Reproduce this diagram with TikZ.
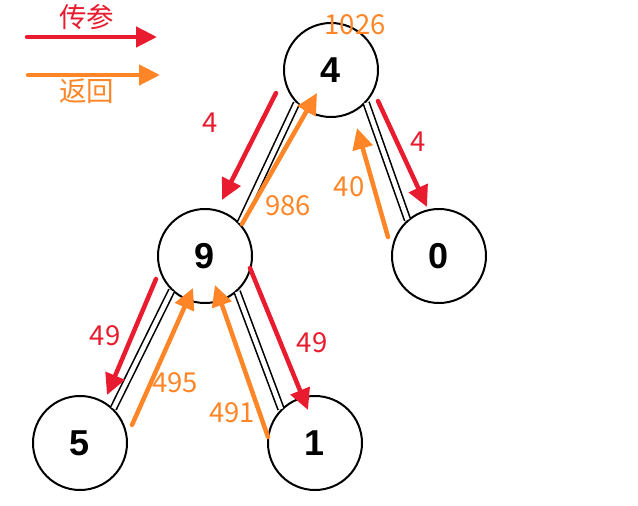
\documentclass[tikz,border=0pt]{standalone}
\usepackage{fontspec}
\newfontfamily\cjk{Noto Sans CJK SC}
\newfontfamily\nodefont{Liberation Sans}
\usetikzlibrary{arrows.meta}
\definecolor{cred}{RGB}{232,28,46}
\definecolor{corange}{RGB}{255,133,38}
\begin{document}
\begin{tikzpicture}[x=1pt,y=-1pt,
  tree/.style={circle,draw=black,fill=white,line width=2pt,minimum size=94pt,inner sep=0pt,
    font=\nodefont\bfseries\fontsize{36}{36}\selectfont},
  link/.style={draw=black,line width=1.6pt,double=white,double distance=4.5pt},
  pass/.style={draw=cred,line width=4.5pt,line cap=round,-{Triangle[length=21pt,width=20pt]}},
  ret/.style={draw=corange,line width=4.5pt,line cap=round,-{Triangle[length=21pt,width=20pt]}},
  rlab/.style={text=cred,font=\cjk\fontsize{27.5}{27.5}\selectfont,inner sep=0pt},
  olab/.style={text=corange,font=\cjk\fontsize{27.5}{27.5}\selectfont,inner sep=0pt}]
\useasboundingbox (0,0) rectangle (638,506);
% nodes
\node[tree] (n4) at (331,70) {4};
\node[tree] (n9) at (205,256) {9};
\node[tree] (n0) at (439,256) {0};
\node[tree] (n5) at (80,443) {5};
\node[tree] (n1) at (315,443) {1};
% tree edges
\draw[link] (n4.224) -- (n9.43);
\draw[link] (n4.317) -- (n0.131);
\draw[link] (n9.226) -- (n5.46);
\draw[link] (n9.312) -- (n1.135);
% legend
\coordinate (lr1) at (27,37); \coordinate (lr2) at (157,37);
\coordinate (lo1) at (28,75); \coordinate (lo2) at (160,75);
\draw[pass] (lr1) -- (lr2);
\draw[ret] (lo1) -- (lo2);
\node[rlab] (t1) at (87,17) {传参};
\node[olab] (t2) at (87,91) {返回};
% arrow end points
\coordinate (a1) at (276,93);  \coordinate (a2) at (222,200);
\coordinate (b1) at (242,224); \coordinate (b2) at (317,93);
\coordinate (c1) at (378,101); \coordinate (c2) at (427,207);
\coordinate (d1) at (388,237); \coordinate (d2) at (357,128);
\coordinate (e1) at (156,279); \coordinate (e2) at (107,395);
\coordinate (f1) at (132,425); \coordinate (f2) at (193,288);
\coordinate (g1) at (250,268); \coordinate (g2) at (308,410);
\coordinate (h1) at (268,437); \coordinate (h2) at (215,285);
\draw[pass] (a1) -- (a2);
\draw[ret]  (b1) -- (b2);
\draw[pass] (c1) -- (c2);
\draw[ret]  (d1) -- (d2);
\draw[pass] (e1) -- (e2);
\draw[ret]  (f1) -- (f2);
\draw[pass] (g1) -- (g2);
\draw[ret]  (h1) -- (h2);
% labels
\node[olab] (l1026) at (355,25) {1026};
\node[rlab] (la) at (210,123) {4};
\node[olab] (lb) at (288,206) {986};
\node[rlab] (lc) at (418,142) {4};
\node[olab] (ld) at (349,187) {40};
\node[rlab] (le) at (105,336) {49};
\node[olab] (lf) at (175,383) {495};
\node[rlab] (lg) at (312,343) {49};
\node[olab] (lh) at (232,413) {491};
\end{tikzpicture}
\end{document}
